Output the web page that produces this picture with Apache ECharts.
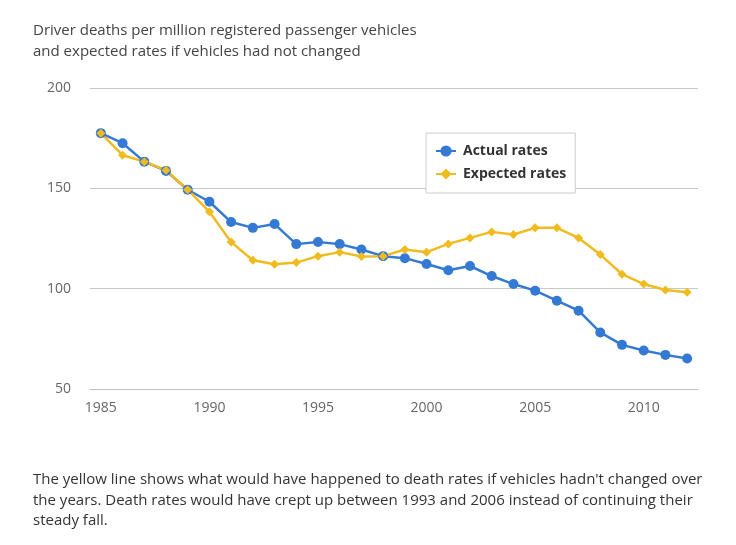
<!DOCTYPE html>
<html><head><meta charset="utf-8">
<script src="https://cdn.jsdelivr.net/npm/echarts@6/dist/echarts.min.js"></script>
<style>html,body{margin:0;padding:0;background:#fff}#c{width:736px;height:545px}</style>
</head><body><div id="c"></div>
<script>
const years = ['1985','1986','1987','1988','1989','1990','1991','1992','1993','1994','1995','1996','1997','1998','1999','2000','2001','2002','2003','2004','2005','2006','2007','2008','2009','2010','2011','2012'];
const actualRates = [177.5,172.5,163.3,158.7,149.3,143.3,133.2,130.3,132.2,122.2,123.3,122.2,119.5,116.2,115.2,112.3,109.2,111.3,106.3,102.3,99,94,89,78.2,72,69.2,67,65.2];
const expectedRates = [177.5,166.5,163.3,159,149.3,138.3,123.2,114.2,112.2,113,116.2,118.2,116,116.2,119.5,118.2,122.3,125.3,128.3,127,130.3,130.3,125.3,117,107.2,102.3,99.3,98.2];
const yTicks = [50,100,150,200];
const titleLines = ['Driver deaths per million registered passenger vehicles','and expected rates if vehicles had not changed'];
const noteLines = ["The yellow line shows what would have happened to death rates if vehicles hadn't changed over","the years. Death rates would have crept up between 1993 and 2006 instead of continuing their","steady fall."];

const chart = echarts.init(document.getElementById('c'));
const FONT = '"Open Sans", sans-serif';
const txt = (s, x, y, size, color) => ({type:'text', left:x, top:y, style:{text:s, fill:color, font:size+'px ' + FONT}});
chart.setOption({
  backgroundColor:'#fff',
  animation:false,
  graphic:[
    txt(titleLines[0], 33, 23, 15, '#444'),
    txt(titleLines[1], 33, 44, 15, '#444'),
    txt(noteLines[0], 33, 472, 15, '#333'),
    txt(noteLines[1], 33, 493, 15, '#333'),
    txt(noteLines[2], 33, 513, 15, '#333')
  ],
  grid:{left:90, right:38, top:88, bottom:156, containLabel:false},
  legend:{
    orient:'vertical', left:426, top:133,
    backgroundColor:'#fff', borderColor:'#ccc', borderWidth:1, padding:[11,9,12,9],
    itemGap:9, itemWidth:20, itemHeight:14,
    textStyle:{fontFamily:FONT, fontSize:14, fontWeight:'bold', color:'#333', padding:[0,0,0,2]},
    data:['Actual rates','Expected rates']
  },
  xAxis:{
    type:'category', data:years, boundaryGap:true,
    axisLine:{lineStyle:{color:'#c0c0c0'}},
    axisTick:{alignWithLabel:true, interval:4, length:10, lineStyle:{color:'#c8c8c8'}},
    axisLabel:{interval:4, color:'#666', fontSize:14, fontFamily:FONT, margin:12}
  },
  yAxis:{
    type:'value', min:yTicks[0], max:yTicks[yTicks.length-1], interval:50,
    axisLine:{show:false}, axisTick:{show:false},
    splitLine:{lineStyle:{color:'#c8c8c8'}},
    axisLabel:{color:'#666', fontSize:14, fontFamily:FONT, margin:19}
  },
  series:[
    {name:'Actual rates', type:'line', data:actualRates, symbol:'circle', symbolSize:10,
     itemStyle:{color:'#3479d3'}, lineStyle:{width:2.5, color:'#3479d3'}},
    {name:'Expected rates', type:'line', data:expectedRates, symbol:'diamond', symbolSize:9,
     itemStyle:{color:'#efbb1e'}, lineStyle:{width:2.5, color:'#efbb1e'}}
  ]
});
</script></body></html>
